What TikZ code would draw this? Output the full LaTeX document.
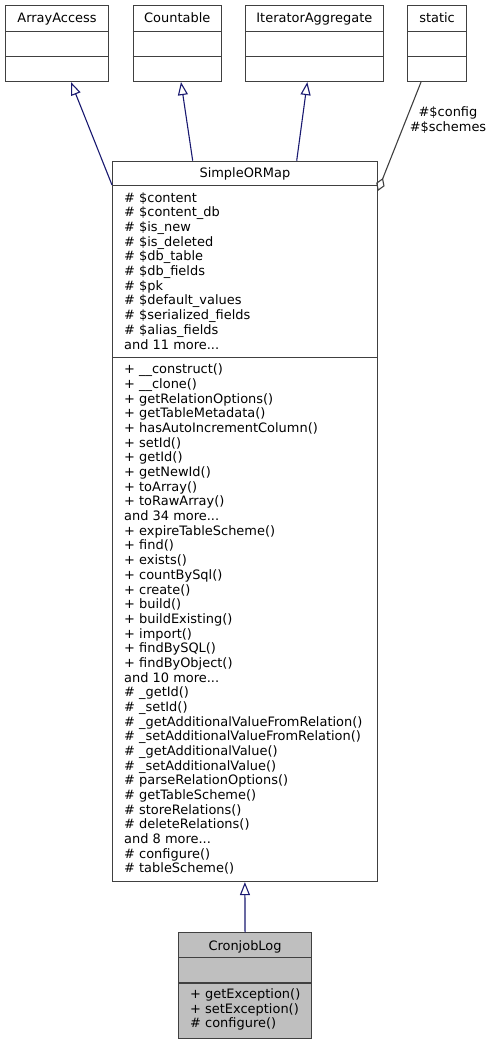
\documentclass[tikz,border=0pt]{standalone}
\usepackage{fontspec}
\setmainfont{DejaVu Sans}
\usetikzlibrary{arrows.meta}
\definecolor{edgeblue}{HTML}{191970}
\definecolor{boxline}{HTML}{404040}
\definecolor{leaffill}{HTML}{BFBFBF}
\newcommand{\threedots}{...}
\begin{document}
\begin{tikzpicture}[x=1bp,y=-1bp,
  classbox/.style={draw=boxline, line width=1.1bp, inner sep=0, anchor=north west},
  divider/.style={draw=boxline, line width=1.4bp},
  txt/.style={font=\fontsize{13}{14.68}\selectfont, inner sep=0, text=black},
  member/.style={txt, anchor=base west},
  inherit/.style={draw=edgeblue, line width=1.1bp, -{Triangle[open,length=13bp,width=10bp]}},
  assoc/.style={draw=boxline, line width=1.1bp, -{Diamond[open,length=14bp,width=9bp]}},
]
\useasboundingbox (0,0) rectangle (491,1044);
% top classes
\node[classbox, minimum width=103bp, minimum height=76bp] (aa) at (5,5) {};
\node[classbox, minimum width=88bp, minimum height=76bp] (ct) at (132.7,5) {};
\node[classbox, minimum width=137.7bp, minimum height=76bp] (ia) at (245,5) {};
\node[classbox, minimum width=59bp, minimum height=76bp] (st) at (407,5) {};
\foreach \b in {aa,ct,ia,st}{
  \draw[divider] (\b.west |- 0,31.3) -- (\b.east |- 0,31.3);
  \draw[divider] (\b.west |- 0,56.7) -- (\b.east |- 0,56.7);
}
\node[txt, anchor=base] (aat) at (aa.north |- 0,22) {ArrayAccess};
\node[txt, anchor=base] (ctt) at (ct.north |- 0,22) {Countable};
\node[txt, anchor=base] (iat) at (ia.north |- 0,22) {IteratorAggregate};
\node[txt, anchor=base] (stt) at (st.north |- 0,22) {static};
% SimpleORMap
\node[classbox, fill=white, minimum width=264.7bp, minimum height=720.3bp] (som) at (112,160.7) {};
\draw[divider] (som.west |- 0,185.7) -- (som.east |- 0,185.7);
\draw[divider] (som.west |- 0,357.7) -- (som.east |- 0,357.7);
\node[txt, anchor=base] (somt) at (som.north |- 0,177.3) {SimpleORMap};
\foreach \t [count=\i from 0] in {\# \$content, \# \$content\_db, \# \$is\_new, \# \$is\_deleted, \# \$db\_table, \# \$db\_fields, \# \$pk, \# \$default\_values, \# \$serialized\_fields, \# \$alias\_fields, and 11 more\threedots}
  \node[member] (soma\i) at (124,{202+14.7*\i}) {\t};
\foreach \t [count=\i from 0] in {+ \_\_construct(), + \_\_clone(), + getRelationOptions(), + getTableMetadata(), + hasAutoIncrementColumn(), + setId(), + getId(), + getNewId(), + toArray(), + toRawArray(), and 34 more\threedots, + expireTableScheme(), + find(), + exists(), + countBySql(), + create(), + build(), + buildExisting(), + import(), + findBySQL(), + findByObject(), and 10 more\threedots, \# \_getId(), \# \_setId(), \# \_getAdditionalValueFromRelation(), \# \_setAdditionalValueFromRelation(), \# \_getAdditionalValue(), \# \_setAdditionalValue(), \# parseRelationOptions(), \# getTableScheme(), \# storeRelations(), \# deleteRelations(), and 8 more\threedots, \# configure(), \# tableScheme()}
  \node[member] (somm\i) at (124,{373.8+14.68*\i}) {\t};
% CronjobLog
\node[classbox, fill=leaffill, minimum width=132.4bp, minimum height=105.4bp] (cl) at (178.3,932.3) {};
\draw[divider] (cl.west |- 0,957.7) -- (cl.east |- 0,957.7);
\draw[divider] (cl.west |- 0,983) -- (cl.east |- 0,983);
\node[txt, anchor=base] (clt) at (cl.north |- 0,950) {CronjobLog};
\foreach \t [count=\i from 0] in {+ getException(), + setException(), \# configure()}
  \node[member] (clm\i) at (190,{998.8+14.4*\i}) {\t};
% connectors
\coordinate (s1) at (som.west |- 0,185);
\coordinate (s2) at (som.north -| 192.7,0);
\coordinate (s3) at (som.north -| 296.7,0);
\coordinate (s4) at (som.east |- 0,191);
\draw[inherit] (s1) -- (aa.south -| 71,0);
\draw[inherit] (s2) -- (ct.south -| 181,0);
\draw[inherit] (s3) -- (ia.south -| 307.3,0);
\draw[assoc] (st.south -| 421,0) -- (s4);
\node[txt, align=center] (lbl) at (448,120) {\#\$config\\\#\$schemes};
\draw[inherit] (cl.north) -- (som.south);
\end{tikzpicture}
\end{document}
